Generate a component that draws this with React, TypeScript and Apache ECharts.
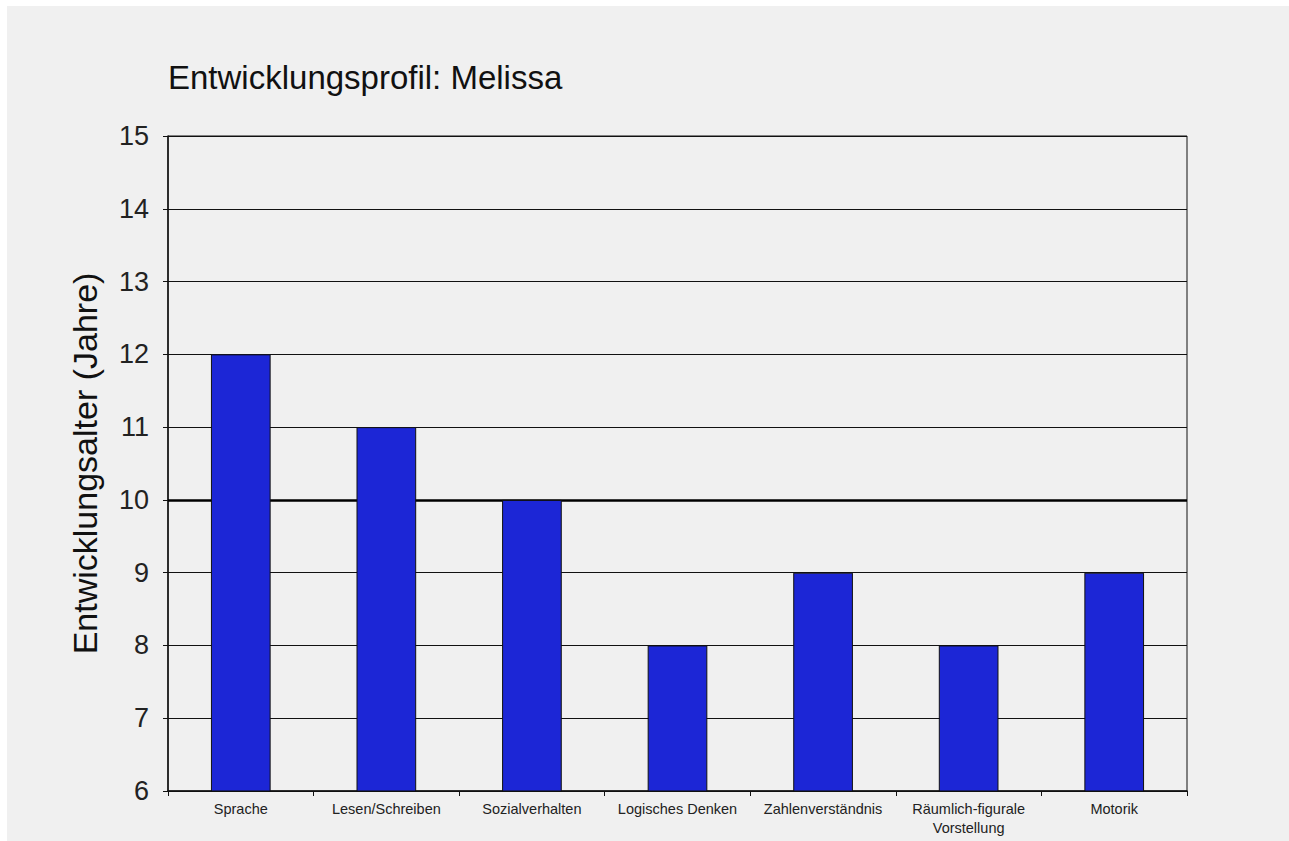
import React, { useEffect, useRef } from "react";
import * as echarts from "echarts";

const categories = [
  "Sprache",
  "Lesen/Schreiben",
  "Sozialverhalten",
  "Logisches Denken",
  "Zahlenverständnis",
  "Räumlich-figurale\nVorstellung",
  "Motorik",
];
const values = [12, 11, 10, 8, 9, 8, 9];
const yMin = 6;
const yMax = 15;
const yInterval = 1;
const referenceLine = 10;
const titleText = "Entwicklungsprofil: Melissa";
const yAxisName = "Entwicklungsalter (Jahre)";

const FONT = "'Liberation Sans', Arial, Helvetica, sans-serif";

export default function App() {
  const ref = useRef<HTMLDivElement>(null);
  useEffect(() => {
    document.body.style.margin = "0";
    const chart = echarts.init(ref.current!, null, { renderer: "svg" });
    chart.setOption({
      animation: false,
      backgroundColor: "#f0f0f0",
      textStyle: { fontFamily: FONT },
      title: {
        text: titleText,
        left: 161,
        top: 55,
        padding: 0,
        textStyle: { fontSize: 33, fontWeight: "normal", color: "#111", fontFamily: FONT },
      },
      grid: {
        left: 161,
        top: 130,
        width: 1019,
        height: 655,
        show: true,
        borderColor: "#111",
        borderWidth: 1,
        backgroundColor: "transparent",
        containLabel: false,
      },
      xAxis: {
        type: "category",
        data: categories,
        boundaryGap: true,
        axisLine: { lineStyle: { color: "#111", width: 1.5 } },
        axisTick: { show: true, inside: false, length: 5, alignWithLabel: false, lineStyle: { color: "#111" } },
        axisLabel: { fontSize: 14.5, color: "#222", margin: 8, lineHeight: 19, interval: 0, fontFamily: FONT },
        splitLine: { show: false },
      },
      yAxis: {
        type: "value",
        min: yMin,
        max: yMax,
        interval: yInterval,
        name: yAxisName,
        nameLocation: "middle",
        nameRotate: 90,
        nameGap: 66,
        nameTextStyle: { fontSize: 34, color: "#111", fontFamily: FONT },
        axisLine: { show: true, lineStyle: { color: "#111", width: 1.5 } },
        axisTick: { show: true, inside: false, length: 5, lineStyle: { color: "#111" } },
        axisLabel: { fontSize: 27, color: "#222", margin: 19, fontFamily: FONT },
        splitLine: { show: true, lineStyle: { color: "#111", width: 1 } },
      },
      series: [
        {
          type: "bar",
          data: values,
          barWidth: "41%",
          itemStyle: { color: "#1c26d6", borderColor: "#111", borderWidth: 1 },
          markLine: {
            silent: true,
            symbol: "none",
            label: { show: false },
            lineStyle: { color: "#000", width: 2.5, type: "solid" },
            data: [{ yAxis: referenceLine }],
            z: 1,
          },
        },
      ],
    });
    return () => chart.dispose();
  }, []);
  return (
    <div style={{ position: "relative", width: 1289, height: 841, background: "#fff" }}>
      <div
        ref={ref}
        style={{ position: "absolute", left: 7, top: 6, width: 1282, height: 835 }}
      />
    </div>
  );
}
